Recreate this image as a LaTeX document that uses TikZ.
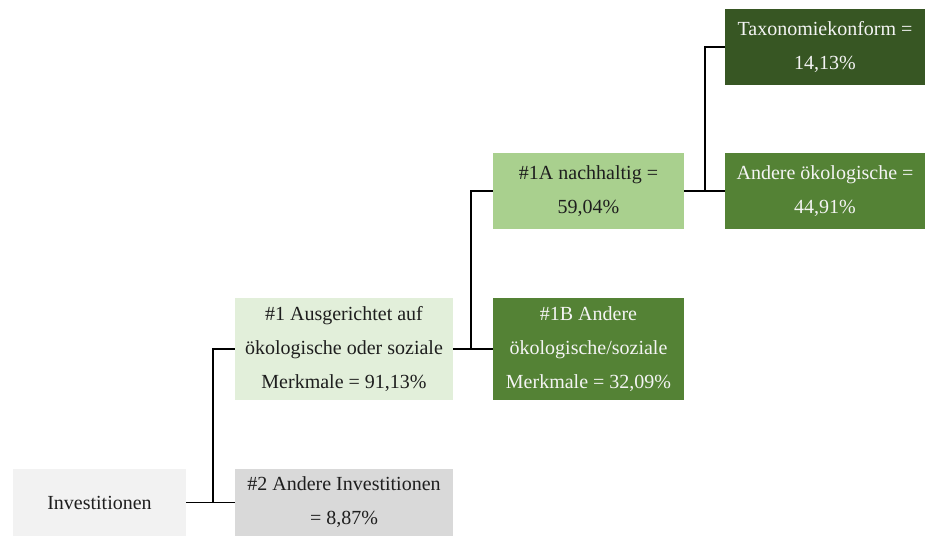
\documentclass[tikz,border=0pt]{standalone}
\usepackage{fontspec}
\setmainfont{Liberation Serif}
\usetikzlibrary{calc}
\definecolor{cInv}{HTML}{F2F2F2}
\definecolor{cTwo}{HTML}{D9D9D9}
\definecolor{cOne}{HTML}{E2EFDA}
\definecolor{cA}{HTML}{A9D08E}
\definecolor{cB}{HTML}{548235}
\definecolor{cTax}{HTML}{375623}
\definecolor{cTxt}{HTML}{1E1E1E}
\definecolor{cWhite}{HTML}{F4F4F4}
\tikzset{
  box/.style={inner sep=0pt, align=center, font=\fontsize{20}{34}\selectfont, text=cTxt},
  darkbox/.style={box, text=cWhite},
  link/.style={draw=black, line width=1.6pt}
}
\begin{document}
\begin{tikzpicture}[x=1pt,y=-1pt]
\useasboundingbox (0,0) rectangle (925,537);
\node[box, fill=cInv, minimum width=173pt, minimum height=67pt] (inv) at (99.5,502.5) {Investitionen};
\node[box, fill=cTwo, minimum width=218pt, minimum height=67pt] (two) at (344,502.5) {\#2 Andere Investitionen\\= 8,87\%};
\node[box, fill=cOne, minimum width=218pt, minimum height=102pt] (one) at (344,349) {\#1 Ausgerichtet auf\\ökologische oder soziale\\Merkmale = 91,13\%};
\node[darkbox, fill=cB, minimum width=191pt, minimum height=102pt] (oneB) at (588.5,349) {\#1B Andere\\ökologische/soziale\\Merkmale = 32,09\%};
\node[box, fill=cA, minimum width=191pt, minimum height=76pt] (oneA) at (588.5,191) {\#1A nachhaltig =\\59,04\%};
\node[darkbox, fill=cTax, minimum width=200pt, minimum height=76pt] (tax) at (825,47) {Taxonomiekonform =\\14,13\%};
\node[darkbox, fill=cB, minimum width=200pt, minimum height=76pt] (oth) at (825,191) {Andere ökologische =\\44,91\%};
\draw[link] (inv.east) -- (two.west);
\draw[link] (inv.east) -- ++(27,0) |- (one.west);
\draw[link] (one.east) -- (oneB.west);
\draw[link] (one.east) -- ++(18,0) |- (oneA.west);
\draw[link] (oneA.east) -- (oth.west);
\draw[link] (oneA.east) -- ++(21,0) |- (tax.west);
\end{tikzpicture}
\end{document}
